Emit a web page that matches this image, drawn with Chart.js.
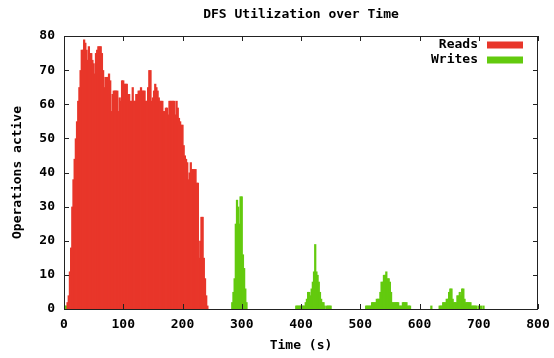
<!DOCTYPE html>
<html lang="en">
<head>
<meta charset="UTF-8">
<title>DFS Utilization over Time</title>
<script src="https://cdn.jsdelivr.net/npm/chart.js"></script>
<style>
  html, body { margin: 0; padding: 0; background: #fff; }
</style>
</head>
<body>
<canvas id="dfs" width="554" height="358"></canvas>
<script>
// width of one histogram bin, in seconds
const binSeconds = 2;

// reads in flight, one value per bin starting at t = 0
const readOps = [
  0, 0, 0,
  2, 4, 11, 18, 30, 38, 44, 50, 55, 61, 65, 70,
  76, 76, 79, 78, 76, 73, 77, 75, 75, 73, 72, 69,
  75, 76, 77, 77, 77, 75, 70, 65, 68, 68, 68, 69,
  67, 58, 63, 64, 64, 64, 64, 58, 62, 61, 67, 67,
  66, 66, 66, 63, 63, 61, 61, 65, 61, 61, 63, 63,
  64, 64, 65, 64, 64, 64, 61, 61, 65, 70, 70, 61,
  62, 64, 66, 65, 64, 62, 61, 61, 61, 58, 58, 59,
  59, 57, 61, 61, 61, 61, 61, 57, 61, 59, 56, 55,
  54, 54, 48, 45, 44, 43, 38, 40, 43, 41, 41, 41,
  41, 37, 37, 15, 20, 27, 27, 15, 9, 4, 1
];

// writes only happen in short bursts, so keep just the non-empty bins
const writeTimes = [
  2, 4,
  284, 286, 288, 290, 292, 294, 296, 298, 300, 302, 304, 306, 308,
  392, 394, 396, 398, 400, 402, 404, 406, 408, 410, 412, 414, 416, 418, 420,
  422, 424, 426, 428, 430, 432, 434, 436, 438, 440, 444, 446, 448, 450,
  510, 512, 514, 516, 518, 520, 522, 524, 526, 528, 530, 532, 534, 536, 538,
  540, 542, 544, 546, 548, 550, 552, 554, 556, 558, 560, 562, 564, 566, 568,
  570, 572, 574, 576, 578, 580, 582, 584,
  620,
  634, 636, 638, 640, 642, 644, 646, 648, 650, 652, 654, 656, 658, 660, 662,
  664, 666, 668, 670, 672, 674, 676, 678, 680, 682, 684, 686, 688, 690, 692,
  694, 696, 700, 704, 708
];
const writeOps = [
  1, 1,
  2, 5, 9, 25, 32, 30, 25, 33, 33, 16, 12, 6, 2,
  1, 1, 1, 1, 1, 1, 1, 1, 2, 3, 5, 5, 4, 6, 8,
  11, 19, 11, 10, 8, 5, 3, 2, 2, 1, 1, 1, 1, 1,
  1, 1, 1, 1, 1, 2, 2, 2, 2, 3, 3, 3, 5, 8, 8,
  10, 10, 11, 9, 9, 8, 5, 2, 2, 2, 2, 2, 2, 1, 1,
  1, 2, 2, 2, 2, 1, 1, 1,
  1,
  1, 1, 1, 2, 2, 2, 3, 3, 5, 6, 6, 3, 2, 2, 2,
  4, 4, 5, 4, 6, 6, 3, 2, 2, 2, 2, 2, 1, 1, 1,
  1, 1, 1, 1, 1
];

const seriesNames = ['Reads', 'Writes'];
const seriesColors = ['#e8362a', '#63ca0e'];

const xMax = 800, xStep = 100;
const yMax = 80, yStep = 10;

Chart.defaults.font.family = '"DejaVu Sans Mono", monospace';
Chart.defaults.font.size = 13;
Chart.defaults.font.weight = 'bold';
Chart.defaults.color = '#000';

// gnuplot look: closed border, ticks pointing in on every side, key inside top right
const gnuplotFrame = {
  id: 'gnuplotFrame',
  afterDatasetsDraw(chart) {
    const {ctx, chartArea: a, scales: {x, y}} = chart;
    const tickLen = 5;
    ctx.save();
    ctx.strokeStyle = '#222';
    ctx.lineWidth = 1;
    ctx.beginPath();
    x.ticks.forEach(t => {
      const px = Math.round(x.getPixelForValue(t.value)) + 0.5;
      ctx.moveTo(px, a.bottom); ctx.lineTo(px, a.bottom - tickLen);
      ctx.moveTo(px, a.top); ctx.lineTo(px, a.top + tickLen);
    });
    y.ticks.forEach(t => {
      const py = Math.round(y.getPixelForValue(t.value)) + 0.5;
      ctx.moveTo(a.left, py); ctx.lineTo(a.left + tickLen, py);
      ctx.moveTo(a.right, py); ctx.lineTo(a.right - tickLen, py);
    });
    ctx.stroke();
    ctx.strokeRect(a.left + 0.5, a.top + 0.5, a.right - a.left - 1, a.bottom - a.top);

    // key
    ctx.font = 'bold 13px "DejaVu Sans Mono", monospace';
    ctx.textAlign = 'right';
    ctx.textBaseline = 'middle';
    chart.data.datasets.forEach((ds, i) => {
      const cy = a.top + 9 + i * 15;
      ctx.fillStyle = '#000';
      ctx.fillText(ds.label, a.right - 60, cy);
      ctx.fillStyle = ds.backgroundColor;
      ctx.fillRect(a.right - 51, cy - 3.5, 36, 7);
    });
    ctx.restore();
  }
};

// a bin is only ~1.2px wide: draw each bar almost two bins wide so the
// antialiased edges of neighbours overlap and no white seams show
const barStyle = {
  stack: 'ops',
  grouped: false,
  barPercentage: 1.9,
  categoryPercentage: 1,
  borderWidth: 0
};

new Chart(document.getElementById('dfs'), {
  type: 'bar',
  data: {
    datasets: [
      Object.assign({
        label: seriesNames[0],
        data: readOps.map((v, i) => ({x: i * binSeconds, y: v})),
        backgroundColor: seriesColors[0]
      }, barStyle),
      Object.assign({
        label: seriesNames[1],
        data: writeTimes.map((t, i) => ({x: t, y: writeOps[i]})),
        backgroundColor: seriesColors[1]
      }, barStyle)
    ]
  },
  options: {
    responsive: false,
    animation: false,
    layout: {padding: {left: 0, right: 16, top: 0, bottom: 0}},
    plugins: {
      legend: {display: false},
      tooltip: {enabled: false},
      title: {
        display: true,
        text: 'DFS Utilization over Time',
        fullSize: false,
        color: '#000',
        font: {size: 13, weight: 'bold'},
        padding: {top: 7, bottom: 13.4}
      }
    },
    scales: {
      x: {
        type: 'linear',
        min: 0,
        max: xMax,
        offset: false,
        grid: {display: false, drawTicks: false},
        border: {display: false},
        ticks: {stepSize: xStep, padding: 8, maxRotation: 0, autoSkip: false},
        title: {display: true, text: 'Time (s)', padding: {top: 0, bottom: 4.2}},
        afterFit(s) { s.height = 49; s.paddingLeft = 0; s.paddingRight = 0; }
      },
      y: {
        min: 0,
        max: yMax,
        grid: {display: false, drawTicks: false},
        border: {display: false},
        ticks: {stepSize: yStep, padding: 9},
        title: {display: true, text: 'Operations active', padding: {top: 10.2, bottom: 0}},
        afterFit(s) { s.width = 64; s.paddingTop = 0; s.paddingBottom = 0; }
      }
    }
  },
  plugins: [gnuplotFrame]
});
</script>
</body>
</html>
